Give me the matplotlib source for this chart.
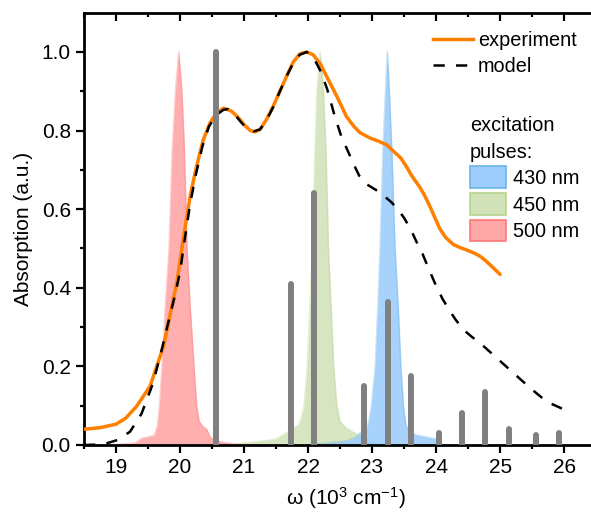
import numpy as np
import matplotlib
matplotlib.use("Agg")
import matplotlib.pyplot as plt
from matplotlib.patches import Patch
from matplotlib.lines import Line2D

plt.rcParams['font.family'] = ['Liberation Sans', 'DejaVu Sans']
plt.rcParams['mathtext.fontset'] = 'custom'
plt.rcParams['mathtext.rm'] = 'Liberation Sans'
plt.rcParams['mathtext.it'] = 'Liberation Sans:italic'

# measured absorption spectrum (10^3 cm^-1, normalised)
exp_w = [18.5, 18.75, 19.0, 19.15, 19.32, 19.53, 19.74, 19.84, 19.95, 20.05, 20.16,
         20.26, 20.36, 20.47, 20.57, 20.68, 20.8, 20.9, 21.0, 21.1, 21.17, 21.25,
         21.35, 21.45, 21.56, 21.67, 21.77, 21.87, 21.98, 22.08, 22.19, 22.3, 22.45,
         22.6, 22.71, 22.81, 22.97, 23.1, 23.23, 23.35, 23.45, 23.55, 23.62, 23.75,
         23.83, 23.91, 23.99, 24.06, 24.15, 24.27, 24.38, 24.48, 24.6, 24.69, 24.78,
         24.88, 25.0]
exp_a = [0.040, 0.044, 0.053, 0.068, 0.098, 0.149, 0.250, 0.327, 0.413, 0.523, 0.635,
         0.710, 0.775, 0.820, 0.845, 0.857, 0.850, 0.835, 0.815, 0.800, 0.797, 0.803,
         0.828, 0.860, 0.900, 0.940, 0.975, 0.995, 1.000, 0.993, 0.970, 0.935, 0.887,
         0.836, 0.812, 0.795, 0.781, 0.773, 0.764, 0.745, 0.730, 0.705, 0.685, 0.655,
         0.632, 0.605, 0.575, 0.550, 0.528, 0.510, 0.502, 0.496, 0.488, 0.480, 0.468,
         0.453, 0.434]

# simulated spectrum
mod_w = [18.5, 18.7, 18.85, 19.03, 19.22, 19.4, 19.58, 19.71, 19.84, 19.92, 20.0,
         20.08, 20.16, 20.25, 20.35, 20.45, 20.57, 20.68, 20.75, 20.85, 20.95, 21.05,
         21.15, 21.25, 21.35, 21.45, 21.56, 21.67, 21.77, 21.87, 21.98, 22.06, 22.13,
         22.2, 22.3, 22.42, 22.52, 22.63, 22.72, 22.8, 22.9, 23.0, 23.1, 23.2, 23.3,
         23.4, 23.5, 23.6, 23.7, 23.78, 23.85, 23.92, 24.0, 24.1, 24.2, 24.3, 24.43,
         24.56, 24.69, 24.95, 25.21, 25.47, 25.73, 25.99]
mod_a = [0.000, 0.001, 0.004, 0.013, 0.034, 0.080, 0.158, 0.240, 0.327, 0.380, 0.440,
         0.530, 0.615, 0.690, 0.760, 0.810, 0.840, 0.853, 0.855, 0.842, 0.822, 0.805,
         0.798, 0.803, 0.826, 0.858, 0.900, 0.940, 0.972, 0.993, 1.000, 0.990, 0.972,
         0.950, 0.905, 0.835, 0.785, 0.745, 0.712, 0.685, 0.665, 0.655, 0.645, 0.632,
         0.618, 0.600, 0.578, 0.550, 0.515, 0.490, 0.462, 0.435, 0.405, 0.372, 0.345,
         0.320, 0.293, 0.275, 0.259, 0.221, 0.183, 0.145, 0.110, 0.091]

# transition sticks
stick_w = [20.56, 21.73, 22.09, 22.88, 23.25, 23.61, 24.04, 24.41, 24.77, 25.14, 25.56, 25.92]
stick_a = [1.0, 0.41, 0.64, 0.15, 0.363, 0.176, 0.031, 0.082, 0.136, 0.041, 0.025, 0.031]

# excitation pulse spectra
p500_w = [18.9, 19.3, 19.4, 19.5, 19.6, 19.65, 19.68, 19.72, 19.77, 19.83, 19.88, 19.93,
          19.98, 20.03, 20.07, 20.11, 20.16, 20.22, 20.26, 20.3, 20.36, 20.42, 20.47,
          20.55, 20.7, 21.0]
p500_a = [0.0, 0.005, 0.017, 0.02, 0.025, 0.05, 0.1, 0.2, 0.35, 0.5, 0.75, 0.9,
          1.0, 0.9, 0.75, 0.5, 0.35, 0.2, 0.1, 0.06, 0.047, 0.04, 0.02,
          0.012, 0.006, 0.0]
p450_w = [20.8, 21.0, 21.3, 21.5, 21.6, 21.7, 21.78, 21.85, 21.9, 21.94, 21.99, 22.03,
          22.07, 22.11, 22.14, 22.19, 22.24, 22.28, 22.32, 22.36, 22.4, 22.45, 22.5,
          22.58, 22.68, 22.78, 22.9, 23.0, 23.2]
p450_a = [0.0, 0.005, 0.01, 0.015, 0.025, 0.035, 0.045, 0.05, 0.07, 0.1, 0.2, 0.35,
          0.5, 0.75, 0.9, 1.0, 0.9, 0.75, 0.5, 0.35, 0.2, 0.1, 0.06,
          0.045, 0.035, 0.025, 0.015, 0.008, 0.0]
p430_w = [22.0, 22.3, 22.6, 22.75, 22.8, 22.9, 22.95, 22.99, 23.05, 23.09, 23.125, 23.17,
          23.21, 23.24, 23.27, 23.31, 23.36, 23.41, 23.45, 23.49, 23.53, 23.6, 23.7,
          23.85, 24.0, 24.1]
p430_a = [0.0, 0.005, 0.01, 0.02, 0.03, 0.035, 0.06, 0.1, 0.2, 0.35, 0.5, 0.75,
          0.9, 1.0, 0.9, 0.75, 0.5, 0.35, 0.2, 0.1, 0.05, 0.03, 0.025,
          0.02, 0.015, 0.0]

pulse_labels = ['430 nm', '450 nm', '500 nm']
pulse_fill = ['#9dcdfb', '#d3e3b9', '#ffa6a6']
pulse_edge = ['#6bb5ea', '#b5d48f', '#ff7878']

fig = plt.figure(figsize=(5.91, 5.16), dpi=100)
ax = fig.add_axes([0.1421, 0.1376, 0.8579, 0.8378])

pulses = [(p430_w, p430_a), (p450_w, p450_a), (p500_w, p500_a)]
for (w, a), fc, ec in zip(reversed(pulses), reversed(pulse_fill), reversed(pulse_edge)):
    ax.fill_between(w, 0, a, color=fc, alpha=0.9, lw=0, zorder=1)
    ax.plot(w, a, color=ec, lw=1.2, alpha=0.35, zorder=1)

ax.plot(exp_w, exp_a, color='#ff7f00', lw=2.5, solid_capstyle='round',
        solid_joinstyle='round', zorder=3)
ax.plot(mod_w, mod_a, color='black', lw=1.8, dashes=(4.5, 4.5), zorder=3)
ax.vlines(stick_w, 0, stick_a, colors='#808080', lw=4.3, capstyle='round', zorder=4)

ax.set_xlim(18.5, 26.42)
ax.set_ylim(0, 1.1)
ax.set_xticks(np.arange(19, 27, 1))
ax.set_xticks(np.arange(18.5, 26.5, 0.5), minor=True)
ax.set_yticks(np.arange(0, 1.01, 0.2))
ax.set_yticks(np.arange(0, 1.05, 0.1), minor=True)
ax.set_yticklabels(['0.0', '0.2', '0.4', '0.6', '0.8', '1.0'])

ax.spines['right'].set_visible(False)
for s in ['left', 'top', 'bottom']:
    ax.spines[s].set_linewidth(2.0)

ax.tick_params(axis='both', which='both', labelsize=15, width=1.6, direction='out')
ax.tick_params(axis='both', which='major', length=5.5, pad=4)
ax.tick_params(axis='both', which='minor', length=2.8)
ax.tick_params(axis='x', which='both', top=True)

# top ticks point into the axes
for t in ax.xaxis.get_major_ticks() + ax.xaxis.get_minor_ticks():
    t.tick2line.set_marker(3)

ax.set_xlabel(r'ω (10$^3$ cm$^{-1}$)', fontsize=15)
ax.xaxis.set_label_coords(0.517, -0.092)
ax.set_ylabel('Absorption (a.u.)', fontsize=15, labelpad=6)

line_handles = [Line2D([], [], color='#ff7f00', lw=2.5),
                Line2D([], [], color='black', lw=1.8, dashes=(4.5, 4.5))]
leg1 = ax.legend(line_handles, ['experiment', 'model'], loc='upper left',
                 bbox_to_anchor=(433 / 591, 1 - 31 / 516), bbox_transform=fig.transFigure,
                 frameon=False, fontsize=14.3, handlelength=2.0, handletextpad=0.25,
                 labelspacing=0.35, borderpad=0, borderaxespad=0)
ax.add_artist(leg1)

patch_handles = [Patch(facecolor=fc, edgecolor=ec, lw=1.2) for fc, ec in zip(pulse_fill, pulse_edge)]
leg2 = ax.legend(patch_handles, pulse_labels, loc='upper left', title='excitation\npulses:',
                 bbox_to_anchor=(470 / 591, 1 - 116 / 516), bbox_transform=fig.transFigure,
                 frameon=False, fontsize=14.3, title_fontsize=14.3, handlelength=1.8,
                 handleheight=1.3, handletextpad=0.35, labelspacing=0.25,
                 borderpad=0, borderaxespad=0, alignment='left')
leg2.get_title().set_linespacing(1.5)

fig.savefig('out.png', dpi=100)
